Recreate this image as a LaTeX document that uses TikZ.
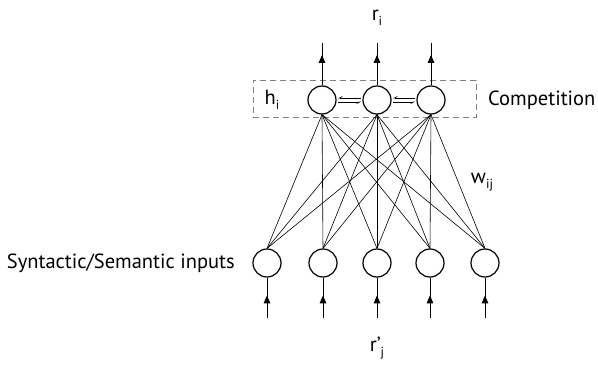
\documentclass[tikz,border=0pt]{standalone}
\usepackage{fontspec}
\setmainfont{PT Sans}
\usetikzlibrary{arrows.meta,decorations.markings,calc}
\newcommand\sbs[1]{\raisebox{-0.45ex}{\fontsize{13}{14}\selectfont #1}}
\begin{document}
\begin{tikzpicture}[x=1pt,y=-1pt,
  neuron/.style={circle,draw,line width=1.2pt,minimum size=28pt,inner sep=0pt},
  lbl/.style={font=\fontsize{20.5}{22}\selectfont,inner sep=0pt},
  wire/.style={line width=0.6pt},
  flowup/.style={line width=0.9pt,postaction={decorate},decoration={markings,mark=at position #1 with {\arrow{Triangle[length=8pt,width=6.5pt]}}}},
  harp/.style={line width=0.6pt,-{Straight Barb[right,length=3pt,width=3pt]},shorten >=1.5pt,shorten <=1.5pt}
]
\useasboundingbox (0,0) rectangle (598,367);
% box
\node[draw=gray,dash pattern=on 6pt off 4pt,line width=0.8pt,minimum width=223pt,minimum height=37pt,inner sep=0pt] (box) at (364.5,98.5) {};
% top neurons
\node[neuron] (t1) at (322,100) {};
\node[neuron] (t2) at (377,100) {};
\node[neuron] (t3) at (431,100) {};
% bottom neurons
\node[neuron] (b1) at (267,263) {};
\node[neuron] (b2) at (323,263) {};
\node[neuron] (b3) at (377,263) {};
\node[neuron] (b4) at (430,263) {};
\node[neuron] (b5) at (485,263) {};
% connections
\foreach \t in {t1,t2,t3}{
  \foreach \b in {b1,b2,b3,b4,b5}{
    \draw[wire] (\t.south) -- (\b.north);
  }
}
% outputs
\coordinate (o1) at (322,43);
\coordinate (o2) at (377,43);
\coordinate (o3) at (431,43);
\foreach \n/\o in {t1/o1,t2/o2,t3/o3}{
  \draw[flowup=0.72] (\n.north) -- (\o);
}
% inputs
\coordinate (i1) at (267,318);
\coordinate (i2) at (323,318);
\coordinate (i3) at (377,318);
\coordinate (i4) at (430,318);
\coordinate (i5) at (485,318);
\foreach \n/\i in {b1/i1,b2/i2,b3/i3,b4/i4,b5/i5}{
  \draw[flowup=0.56] (\i) -- (\n.south);
}
% competition harpoons
\foreach \a/\b in {t1/t2,t2/t3}{
  \draw[harp] ([yshift=2pt]\b.west) -- ([yshift=2pt]\a.east);
  \draw[harp] ([yshift=-2pt]\a.east) -- ([yshift=-2pt]\b.west);
}
% labels
\node[lbl] (ri) at (377,18) {r\sbs{i}};
\node[lbl] (rj) at (377,348) {r'\sbs{j}};
\node[lbl] (hi) at (272,100) {h\sbs{i}};
\node[lbl,anchor=west] (comp) at (488,100) {Competition};
\node[lbl] (wij) at (482,182) {w\sbs{ij}};
\node[lbl,anchor=east] (syn) at (235,263) {Syntactic/Semantic inputs};
\end{tikzpicture}
\end{document}
